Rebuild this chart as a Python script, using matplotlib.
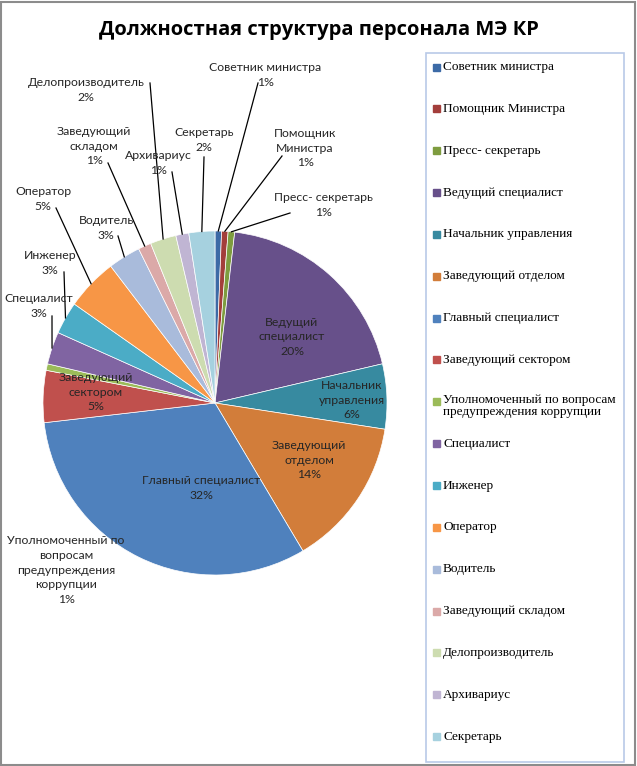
import matplotlib
matplotlib.use("Agg")
import matplotlib.pyplot as plt
from matplotlib.patches import Rectangle
import numpy as np

# staff counts per position (percentages rounded as in the original)
positions = ["Советник министра", "Помощник Министра", "Пресс- секретарь",
             "Ведущий специалист", "Начальник управления", "Заведующий отделом",
             "Главный специалист", "Заведующий сектором",
             "Уполномоченный по вопросам предупреждения коррупции",
             "Специалист", "Инженер", "Оператор", "Водитель",
             "Заведующий складом", "Делопроизводитель", "Архивариус", "Секретарь"]
counts = [1, 1, 1, 32, 10, 23, 52, 8, 1, 5, 5, 8, 5, 2, 4, 2, 4]
percent = [1, 1, 1, 20, 6, 14, 32, 5, 1, 3, 3, 5, 3, 1, 2, 1, 2]

# wrapped text of the slice labels
label_text = ["Советник министра", "Помощник\nМинистра", "Пресс- секретарь",
              "Ведущий\nспециалист", "Начальник\nуправления", "Заведующий\nотделом",
              "Главный специалист", "Заведующий\nсектором",
              "Уполномоченный по\nвопросам\nпредупреждения\nкоррупции",
              "Специалист", "Инженер", "Оператор", "Водитель",
              "Заведующий\nскладом", "Делопроизводитель", "Архивариус", "Секретарь"]
legend_text = positions[:]
legend_text[8] = "Уполномоченный по вопросам\nпредупреждения коррупции"

colors = ["#3c6aa6", "#a33e3b", "#7e9c3f", "#67508a", "#378aa0", "#d27d3a",
          "#4f81bd", "#c0504d", "#9bbb59", "#8064a2", "#4bacc6", "#f79646",
          "#a9bbdb", "#dba9a8", "#cddcb0", "#c0b5d3", "#a6d1df"]

W, H = 637, 766
cx, cy, R = 215, 403, 172

# label centres in pixels (from top-left)
label_pos = [(265, 75), (305, 148), (323, 205), (292, 337), (352, 400),
             (309, 460), (201, 488), (96, 392), (66, 570), (39, 306),
             (50, 263), (43, 199), (106, 228), (94, 146), (86, 90),
             (158, 163), (204, 140)]
inside = [3, 4, 5, 6, 7]
no_leader = [8]
# where the leader line leaves the label (pixels)
leader_start = {0: (258, 83), 1: (282, 156), 2: (290, 213), 9: (52, 316),
                10: (64, 272), 11: (56, 208), 12: (118, 236), 13: (108, 163),
                14: (150, 83), 15: (172, 172), 16: (204, 157)}

fig = plt.figure(figsize=(W / 100, H / 100), dpi=100)
ax = fig.add_axes([(cx - R) / W, (H - cy - R) / H, 2 * R / W, 2 * R / H])

wedges, _ = ax.pie(counts, colors=colors, startangle=90, counterclock=False,
                   radius=1, wedgeprops=dict(linewidth=0.5, edgecolor="white"))
ax.set_xlim(-1, 1)
ax.set_ylim(-1, 1)
ax.set_aspect("equal")
ax.axis("off")


def to_data(px, py):
    return (px - cx) / R, (cy - py) / R


lab_font = dict(family="Lato", fontsize=8.8, color="#262626")
for i, w in enumerate(wedges):
    tx, ty = to_data(*label_pos[i])
    txt = label_text[i] + "\n" + str(percent[i]) + "%"
    ax.text(tx, ty, txt, ha="center", va="center", linespacing=1.4,
            clip_on=False, **lab_font)
    if i in inside or i in no_leader:
        continue
    ang = np.deg2rad((w.theta1 + w.theta2) / 2)
    ex, ey = np.cos(ang), np.sin(ang)
    sx, sy = to_data(*leader_start[i])
    ax.plot([sx, ex], [sy, ey], color="black", lw=0.9, clip_on=False)

fig.text(0.5, 1 - 30 / H, "Должностная структура персонала МЭ КР",
         ha="center", va="center", fontsize=14.5, fontweight="bold",
         family="Open Sans", color="black")

# legend box
fig.patches.append(Rectangle((426 / W, (H - 762) / H), 198 / W, 709 / H,
                             transform=fig.transFigure, fill=False,
                             edgecolor="#b9c9e8", lw=1.2))
y0, step = 67, 41.85
for i, name in enumerate(legend_text):
    y = y0 + step * i
    fig.patches.append(Rectangle((433 / W, (H - y - 3.5) / H), 7 / W, 7 / H,
                                 transform=fig.transFigure, color=colors[i]))
    if "\n" in name:
        fig.text(443 / W, (H - y + 8) / H, name, ha="left", va="top",
                 fontsize=9.5, family="Liberation Serif", color="black",
                 linespacing=1.05)
    else:
        fig.text(443 / W, (H - y) / H, name, ha="left", va="center",
                 fontsize=9.5, family="Liberation Serif", color="black")

# outer chart border
fig.patches.append(Rectangle((1 / W, 1 / H), (W - 3) / W, (H - 3) / H,
                             transform=fig.transFigure, fill=False,
                             edgecolor="#8c8c8c", lw=1.5))

fig.savefig("out.png", dpi=100, facecolor="white")
